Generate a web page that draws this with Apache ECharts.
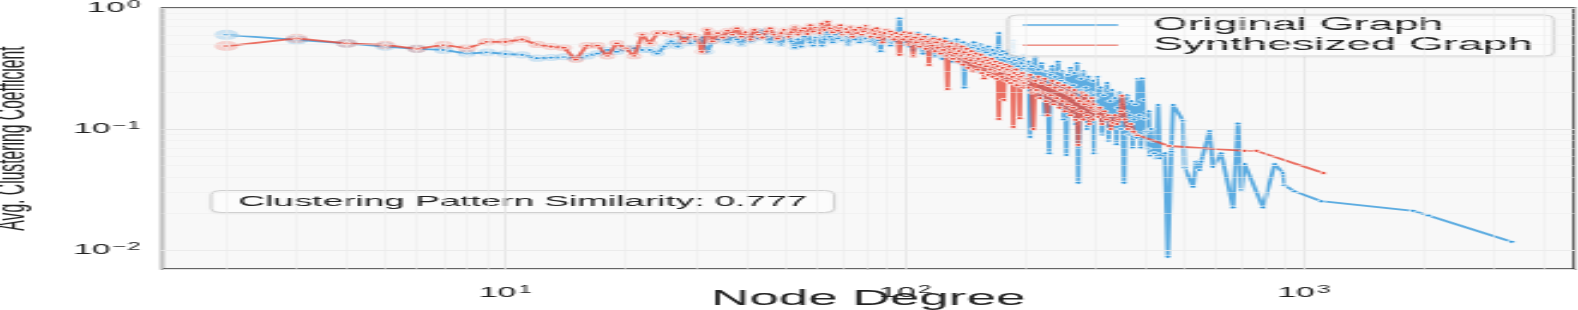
<!DOCTYPE html>
<html><head><meta charset="utf-8">
<script src="https://cdn.jsdelivr.net/npm/echarts@6/dist/echarts.min.js"></script>
<style>
html,body{margin:0;padding:0;background:#fff;overflow:hidden;}
#wrap{width:1578px;height:310px;overflow:hidden;position:relative;background:#fff;}
#chart{position:absolute;left:0;top:0;height:310px;transform-origin:0 0;}
</style></head><body>
<div id="wrap"><div id="chart"></div></div>
<script>
// ---------------- data ----------------
function range(a, b, step) { const r = []; for (let k = a; k <= b; k += step) r.push(k); return r; }

// Original graph: avg clustering coefficient per node degree
const origDegDense = range(2, 200, 1);
const origValDense = [
  0.60,0.545,0.51,0.48,0.46,0.45,0.42,0.43,0.417,0.41,0.385,0.39,0.395,0.385,0.40,0.42,0.45,0.435,0.46,0.465,0.45,0.45,0.42,0.48,0.53,0.48,0.57,0.51,0.53,0.57,0.435,0.53,
  0.55,0.58,0.52,0.60,0.55,0.50,0.57,0.53,0.60,0.56,
  0.65,0.58,0.52,0.61,0.55,0.50,0.57,0.60,0.53,0.47,
  0.55,0.48,0.58,0.62,0.52,0.49,0.57,0.60,0.49,0.55,
  0.63,0.58,0.52,0.60,0.56,0.62,0.54,0.58,0.50,0.57,
  0.62,0.55,0.60,0.52,0.58,0.63,0.56,0.53,0.60,0.57,
  0.50,0.58,0.54,0.44,0.56,0.60,0.52,0.58,0.49,0.55,
  0.61,0.53,0.57,0.82,0.55,0.50,0.58,
  0.52,0.60,0.48,0.55,0.45,0.58,0.50,0.62,0.47,0.55,
  0.42,0.57,0.50,0.60,0.44,0.52,0.48,0.58,0.40,0.50,
  0.55,0.43,0.52,0.38,0.48,0.56,0.45,0.50,0.40,0.53,
  0.46,0.36,0.50,0.44,0.55,0.41,0.48,0.35,0.46,0.52,
  0.22,0.45,0.38,0.50,0.42,0.33,0.47,0.40,0.52,0.37,
  0.44,0.30,0.46,0.39,0.50,0.34,0.42,0.47,0.31,0.43,
  0.38,0.48,0.33,0.41,0.28,0.45,0.36,0.42,0.30,0.39,
  0.47,0.62,0.35,0.41,0.29,0.44,0.34,0.39,0.26,0.42,
  0.33,0.38,0.45,0.28,0.36,0.41,0.54,0.31,0.37,0.25,
  0.40,0.33,0.29,0.38,0.22,0.35,0.30,0.41,0.27,0.33
];
const origDegMid = range(202, 300, 2);
const origValMid = [
  0.30,0.36,0.086,0.33,0.27,0.40,0.24,0.31,0.19,0.35,
  0.26,0.13,0.30,0.22,0.063,0.28,0.33,0.17,0.27,0.21,
  0.36,0.15,0.25,0.30,0.12,0.24,0.061,0.28,0.18,0.32,
  0.14,0.23,0.29,0.11,0.35,0.036,0.21,0.26,0.13,0.30,
  0.17,0.22,0.10,0.27,0.16,0.20,0.12,0.25,0.063,0.18
];
const origDegHigh = range(303, 420, 3);
const origValHigh = [
  0.27,0.15,0.22,0.09,0.19,0.13,0.24,0.08,0.17,0.21,
  0.11,0.18,0.075,0.15,0.20,0.10,0.16,0.036,0.14,0.19,
  0.09,0.13,0.17,0.07,0.12,0.16,0.085,0.26,0.13,0.07,
  0.262,0.174,0.122,0.095,0.069,0.14,0.06,0.10,0.08,0.063
];
const origDegTail = [422,427,431,435,448,456,465,470,498,502,527,537,547,552,580,591,620,664,683,697,710,789,844,886,894,947,1105,1876,2047,3310];
const origValTail = [0.063,0.0573,0.158,0.0573,0.063,0.0088,0.065,0.158,0.117,0.048,0.0333,0.0537,0.0458,0.0537,0.0962,0.0487,0.063,0.0225,0.111,0.0314,0.0513,0.0225,0.0513,0.0433,0.0343,0.0305,0.0253,0.0211,0.0193,0.0117];

// Synthesized graph
const synDegDense = range(2, 200, 1);
const synValDense = [
  0.485,0.56,0.51,0.495,0.46,0.495,0.465,0.525,0.525,0.55,0.50,0.48,0.47,0.375,0.49,0.49,0.40,0.51,0.465,0.40,0.60,0.51,0.62,0.62,0.60,0.62,0.53,0.60,0.58,0.435,0.66,0.53,
  0.62,0.57,0.65,0.60,0.68,0.58,0.63,0.55,0.66,0.60,
  0.57,0.64,0.68,0.60,0.56,0.62,0.66,0.58,0.63,0.70,
  0.60,0.65,0.68,0.61,0.72,0.64,0.69,0.62,0.74,0.66,
  0.77,0.68,0.63,0.70,0.65,0.72,0.60,0.67,0.63,0.70,
  0.58,0.66,0.62,0.69,0.60,0.64,0.71,0.62,0.58,0.66,
  0.61,0.68,0.57,0.63,0.52,0.62,0.66,0.58,0.64,0.60,
  0.55,0.62,0.58,0.41,0.60,0.55,0.63,
  0.58,0.50,0.62,0.55,0.40,0.57,0.52,0.60,0.48,0.55,
  0.50,0.58,0.46,0.53,0.338,0.55,0.49,0.56,0.44,0.52,
  0.47,0.55,0.42,0.50,0.45,0.53,0.40,0.214,0.48,0.43,
  0.51,0.38,0.46,0.42,0.50,0.36,0.44,0.40,0.48,0.34,
  0.43,0.38,0.46,0.32,0.41,0.37,0.44,0.30,0.40,0.35,
  0.42,0.31,0.38,0.34,0.41,0.29,0.36,0.262,0.39,0.33,
  0.37,0.28,0.35,0.31,0.38,0.27,0.34,0.30,0.36,0.26,
  0.33,0.121,0.31,0.35,0.27,0.32,0.174,0.30,0.34,0.25,
  0.31,0.28,0.33,0.24,0.30,0.27,0.104,0.29,0.25,0.31,
  0.23,0.28,0.26,0.123,0.27,0.24,0.29,0.22,0.26,0.24
];
const synDegMid = range(202, 300, 2);
const synValMid = [
  0.26,0.22,0.28,0.20,0.10,0.25,0.21,0.27,0.18,0.24,
  0.20,0.26,0.17,0.13,0.23,0.19,0.25,0.16,0.22,0.18,
  0.24,0.15,0.21,0.17,0.23,0.14,0.20,0.16,0.22,0.13,
  0.19,0.15,0.21,0.119,0.18,0.0739,0.17,0.14,0.20,0.12,
  0.16,0.19,0.13,0.17,0.11,0.15,0.18,0.12,0.16,0.14
];
const synDegHigh = [304,308,312,316,320,324,328,332,336,340,344,348,350,356,362,368,374,383];
const synValHigh = [0.126,0.15,0.11,0.14,0.12,0.13,0.10,0.112,0.13,0.11,0.12,0.14,0.188,0.12,0.10,0.11,0.095,0.089];
const synDegTail = [459,709,760,1118];
const synValTail = [0.0724,0.066,0.066,0.0433];

const seriesNames = ['Original Graph', 'Synthesized Graph'];
const xTitle = 'Node Degree';
const yTitle = 'Avg. Clustering Coefficient';
const annotationText = 'Clustering Pattern Similarity: 0.777';

// ---------------- layout ----------------
const S = 2.4;               // the reference is stretched horizontally by this factor
const W = 1578 / S;
const el = document.getElementById('chart');
el.style.width = W + 'px';
el.style.transform = 'scaleX(' + S + ')';
function px(x) { return x / S; }   // full-size horizontal px -> pre-stretch px

function pairs(d, v) { return d.map((k, i) => [k, v[i]]); }
const origPts = [].concat(pairs(origDegDense, origValDense), pairs(origDegMid, origValMid), pairs(origDegHigh, origValHigh), pairs(origDegTail, origValTail));
const synPts = [].concat(pairs(synDegDense, synValDense), pairs(synDegMid, synValMid), pairs(synDegHigh, synValHigh), pairs(synDegTail, synValTail));

const FONT = '"Liberation Sans", Arial, Helvetica, sans-serif';
function expLabel(v) {
  const e = Math.log10(v), r = Math.round(e);
  if (Math.abs(e - r) > 0.01) return '';
  return '{b|10}{s|' + (r < 0 ? '\u2212' + (-r) : r) + '}';
}
const rich = {
  b: { fontSize: 14, fontFamily: FONT, color: '#222', lineHeight: 16 },
  s: { fontSize: 10, fontFamily: FONT, color: '#222', lineHeight: 10, verticalAlign: 'top', padding: [0, 0, 0, 1] }
};
function haloSize(k) { return Math.max(0, 10 - 3.5 * Math.log10(k / 2)); }

// minor gridline positions (2..9 x 10^n)
const xMin = 1.38, xMax = 4750, yMin = 0.00697, yMax = 1;
const minorX = [], minorY = [];
for (let d = 1; d <= 1000; d *= 10) for (let m = 2; m <= 9; m++) { const v = m * d; if (v > xMin && v < xMax) minorX.push({ xAxis: v }); }
for (let d = 0.001; d <= 0.1 + 1e-9; d *= 10) for (let m = 2; m <= 9; m++) { const v = m * d; if (v > yMin && v < yMax) minorY.push({ yAxis: v }); }

const chart = echarts.init(el, null, { renderer: 'canvas' });
chart.setOption({
  animation: false,
  backgroundColor: '#fff',
  grid: { left: px(162), right: px(5), top: 8, bottom: 41, show: true, outerBoundsMode: 'none', containLabel: false,
          backgroundColor: '#f8f8f8', borderColor: '#333', borderWidth: 1.3 },
  xAxis: {
    type: 'log', logBase: 10, min: xMin, max: xMax,
    axisLine: { show: false }, axisTick: { show: false },
    axisLabel: { formatter: expLabel, rich: rich, margin: 16 },
    splitLine: { show: true, lineStyle: { color: '#e3e3e3', width: 0.8 } },
    name: xTitle, nameLocation: 'middle', nameGap: 19, nameMoveOverlap: false,
    nameTextStyle: { fontSize: 22, fontFamily: FONT, color: '#222' }
  },
  yAxis: {
    type: 'log', logBase: 10, min: yMin, max: yMax,
    axisLine: { show: false }, axisTick: { show: false },
    axisLabel: { formatter: expLabel, rich: rich, margin: 9 },
    splitLine: { show: true, lineStyle: { color: '#e3e3e3', width: 1 } },
    name: yTitle, nameLocation: 'middle', nameRotate: 90, nameGap: 54, nameMoveOverlap: false,
    nameTextStyle: { fontSize: 15.7, fontFamily: FONT, color: '#222' }
  },
  legend: {
    data: [
      { name: seriesNames[0], icon: 'rect', itemStyle: { color: '#5dade2', borderWidth: 0, opacity: 1 } },
      { name: seriesNames[1], icon: 'rect', itemStyle: { color: '#ec7063', borderWidth: 0, opacity: 1 } }
    ],
    orient: 'vertical', left: px(1008), top: 15,
    itemWidth: px(95), itemHeight: 1.6, itemGap: 0,
    padding: [0, px(21), 1, px(15)],
    backgroundColor: 'rgba(255,255,255,0.85)', borderColor: '#d5d5d5', borderWidth: 1, borderRadius: 4,
    shadowColor: 'rgba(0,0,0,0.08)', shadowBlur: 2, shadowOffsetY: 1,
    textStyle: { fontSize: 18.6, fontFamily: FONT, color: '#222', lineHeight: 20, padding: [0, 0, 0, px(35) - 5] },
    selectedMode: false
  },
  graphic: [{
    type: 'group', left: px(210), top: 190, z: 100,
    children: [
      { type: 'rect', shape: { x: 0, y: 0, width: px(623), height: 22, r: 4 },
        style: { fill: 'rgba(255,255,255,0.85)', stroke: '#d0d0d0', lineWidth: 1, shadowColor: 'rgba(0,0,0,0.06)', shadowBlur: 2, shadowOffsetY: 1 } },
      { type: 'text', x: px(623) / 2, y: 11,
        style: { text: annotationText, fontSize: 15.4, fontFamily: FONT, fill: '#222', align: 'center', verticalAlign: 'middle' } }
    ]
  }],
  series: [
    { name: 'halo-orig', type: 'scatter', data: origPts, symbolSize: v => haloSize(v[0]), silent: true, z: 1,
      itemStyle: { color: 'rgba(93,173,226,0.35)' },
      markLine: { silent: true, symbol: 'none', label: { show: false },
        lineStyle: { color: '#ececec', width: 0.5, type: 'solid' }, data: minorX.concat(minorY), animation: false } },
    { name: seriesNames[0], type: 'line', data: origPts, z: 2, symbol: 'circle', symbolSize: 3, showSymbol: true,
      lineStyle: { color: 'rgba(52,152,219,0.8)', width: 1.8 },
      itemStyle: { color: '#3498db', borderColor: '#fff', borderWidth: 0.8 }, emphasis: { disabled: true } },
    { name: 'halo-syn', type: 'scatter', data: synPts, symbolSize: v => haloSize(v[0]), silent: true, z: 3,
      itemStyle: { color: 'rgba(236,112,99,0.35)' } },
    { name: seriesNames[1], type: 'line', data: synPts, z: 4, symbol: 'circle', symbolSize: 3, showSymbol: true,
      lineStyle: { color: 'rgba(231,76,60,0.8)', width: 1.8 },
      itemStyle: { color: '#e74c3c', borderColor: '#fff', borderWidth: 0.8 }, emphasis: { disabled: true } }
  ]
});
</script>
</body></html>
